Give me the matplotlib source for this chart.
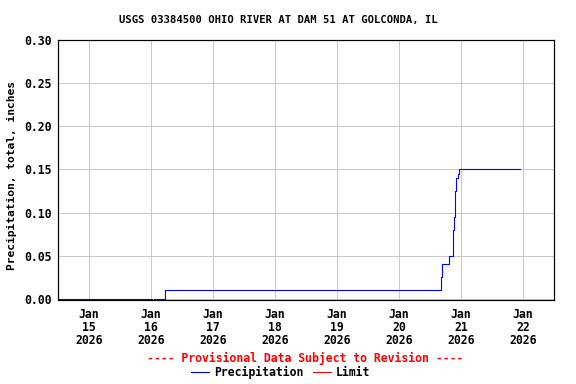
import matplotlib
matplotlib.use("Agg")
import matplotlib.pyplot as plt
from matplotlib.lines import Line2D
import numpy as np
import pandas as pd

title = "USGS 03384500 OHIO RIVER AT DAM 51 AT GOLCONDA, IL"
ylabel = "Precipitation, total, inches"

# step changes: (timestamp, value) -- value holds until next timestamp
step_times = ["2026-01-14 12:00", "2026-01-16 00:30", "2026-01-16 01:15",
              "2026-01-16 05:30", "2026-01-20 16:00", "2026-01-20 16:15",
              "2026-01-20 16:45", "2026-01-20 19:30", "2026-01-20 20:45",
              "2026-01-20 21:15", "2026-01-20 21:45", "2026-01-20 22:15",
              "2026-01-20 22:45", "2026-01-20 23:15", "2026-01-21 23:00"]
step_values = [0.0, np.nan, 0.0,
               0.01, 0.01, 0.025,
               0.04, 0.05, 0.08,
               0.095, 0.125, 0.14,
               0.145, 0.15, 0.15]

tick_days = ["2026-01-15", "2026-01-16", "2026-01-17", "2026-01-18",
             "2026-01-19", "2026-01-20", "2026-01-21", "2026-01-22"]
tick_labels = ["Jan\n15\n2026", "Jan\n16\n2026", "Jan\n17\n2026", "Jan\n18\n2026",
               "Jan\n19\n2026", "Jan\n20\n2026", "Jan\n21\n2026", "Jan\n22\n2026"]
y_ticks = [0.0, 0.05, 0.10, 0.15, 0.20, 0.25, 0.30]

font = "DejaVu Sans Mono"
fs = 11.5

fig = plt.figure(figsize=(8, 384/72), dpi=72)
ax = fig.add_axes([58/576, 1-300/384, 496/576, 260/384])

t = pd.to_datetime(step_times)
ax.step(t, step_values, where="post", color="#0000ff", lw=1.1)

ax.set_xlim(pd.Timestamp("2026-01-14 12:00"), pd.Timestamp("2026-01-22 12:00"))
ax.set_ylim(-0.0012, 0.30)
ax.set_xticks(pd.to_datetime(tick_days))
ax.set_xticklabels(tick_labels, fontfamily=font, fontweight="bold", fontsize=fs,
                   linespacing=0.98)
ax.set_yticks(y_ticks)
ax.set_yticklabels([f"{v:.2f}" for v in y_ticks], fontfamily=font,
                   fontweight="bold", fontsize=fs)
ax.tick_params(length=0, pad=6)
ax.tick_params(axis="x", pad=8)
ax.grid(True, color="#c8c8c8", lw=1)
ax.set_axisbelow(True)
for s in ax.spines.values():
    s.set_linewidth(1.2)
    s.set_color("black")

fig.text(278/576, 1-20/384, title, ha="center", va="center",
         fontfamily=font, fontweight="bold", fontsize=10.5)
fig.text(12/576, 1-176/384, ylabel, rotation=90, ha="center", va="center",
         fontfamily=font, fontweight="bold", fontsize=11.2)

fig.text(305/576, 1-358/384, "---- Provisional Data Subject to Revision ----",
         color="red", ha="center", va="center", fontfamily=font,
         fontweight="bold", fontsize=fs)

ly = 1-372/384
fig.add_artist(Line2D([191/576, 209/576], [ly, ly], color="#0000ff", lw=1.1,
                      transform=fig.transFigure))
fig.text(214/576, ly, "Precipitation", ha="left", va="center", fontfamily=font,
         fontweight="bold", fontsize=fs)
fig.add_artist(Line2D([313/576, 331/576], [ly, ly], color="red", lw=1.1,
                      transform=fig.transFigure))
fig.text(336/576, ly, "Limit", ha="left", va="center", fontfamily=font,
         fontweight="bold", fontsize=fs)

fig.savefig("out.png", dpi=72)
